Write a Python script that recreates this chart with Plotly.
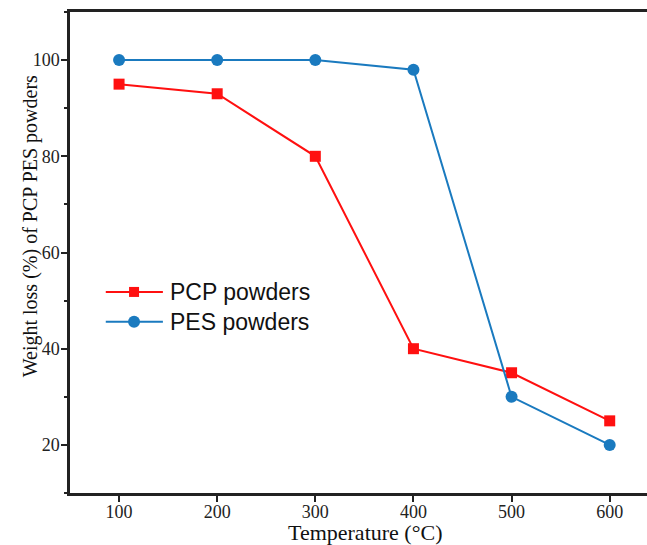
import plotly.graph_objects as go

temperature = [100, 200, 300, 400, 500, 600]
pcp_powders = [95, 93, 80, 40, 35, 25]
pes_powders = [100, 100, 100, 98, 30, 20]

x_ticks = [100, 200, 300, 400, 500, 600]
y_ticks = [20, 40, 60, 80, 100]

series_names = ["PCP powders", "PES powders"]
series_colors = ["#FF1010", "#1A7ABF"]

serif = "Liberation Serif, Times New Roman, serif"
sans = "Liberation Sans, Arial, sans-serif"

fig = go.Figure()
fig.add_trace(go.Scatter(
    x=temperature, y=pcp_powders, name=series_names[0],
    mode="lines+markers",
    line=dict(color=series_colors[0], width=2),
    marker=dict(symbol="square", size=11, color=series_colors[0]),
))
fig.add_trace(go.Scatter(
    x=temperature, y=pes_powders, name=series_names[1],
    mode="lines+markers",
    line=dict(color=series_colors[1], width=2),
    marker=dict(symbol="circle", size=12, color=series_colors[1]),
))

# Legend drawn by hand so the key lines can be long
shapes = []
annotations = []
rows = [0.418, 0.356]
for name, color, ry, sym in zip(series_names, series_colors, rows, ["square", "circle"]):
    shapes.append(dict(type="line", xref="paper", yref="paper",
                       x0=0.062, x1=0.161, y0=ry, y1=ry,
                       line=dict(color=color, width=2)))
    s = 10 if sym == "square" else 12
    shapes.append(dict(type="rect" if sym == "square" else "circle",
                       xref="paper", yref="paper",
                       xsizemode="pixel", ysizemode="pixel",
                       xanchor=0.111, yanchor=ry,
                       x0=-s / 2, x1=s / 2, y0=-s / 2, y1=s / 2,
                       fillcolor=color, line=dict(color=color, width=0)))
    annotations.append(dict(text=name, xref="paper", yref="paper",
                            x=0.170, y=ry, xanchor="left", yanchor="middle",
                            showarrow=False,
                            font=dict(family=sans, size=23, color="#111")))

# Axis titles
annotations.append(dict(text="Temperature (°C)", xref="paper", yref="paper",
                        x=0.512, y=-0.082, xanchor="center", yanchor="middle",
                        showarrow=False, font=dict(family=serif, size=22, color="#111")))
annotations.append(dict(text="Weight loss (%) of PCP PES powders", xref="paper", yref="paper",
                        x=-0.069, y=0.555, xanchor="center", yanchor="middle",
                        textangle=-90, showarrow=False,
                        font=dict(family=serif, size=20, color="#111")))

fig.update_layout(
    width=647, height=545,
    margin=dict(l=70, r=0, t=12, b=52),
    paper_bgcolor="white", plot_bgcolor="white",
    showlegend=False,
    shapes=shapes,
    annotations=annotations,
    xaxis=dict(
        range=[50, 638], tickvals=x_ticks,
        showgrid=False, zeroline=False,
        showline=True, linecolor="#222", linewidth=2.5, mirror=True,
        ticks="outside", ticklen=6, tickwidth=2, tickcolor="#222",
        ticklabelstandoff=-5,
        tickfont=dict(family=serif, size=18, color="#222"),
    ),
    yaxis=dict(
        range=[10, 110], tickvals=y_ticks,
        showgrid=False, zeroline=False,
        showline=True, linecolor="#222", linewidth=2.5,
        ticks="outside", ticklen=6, tickwidth=2, tickcolor="#222",
        ticklabelstandoff=-2,
        minor=dict(dtick=10, ticks="outside", ticklen=3, tickwidth=1.5, tickcolor="#222", showgrid=False),
        tickfont=dict(family=serif, size=18, color="#222"),
    ),
)

fig.write_html("out.html")
